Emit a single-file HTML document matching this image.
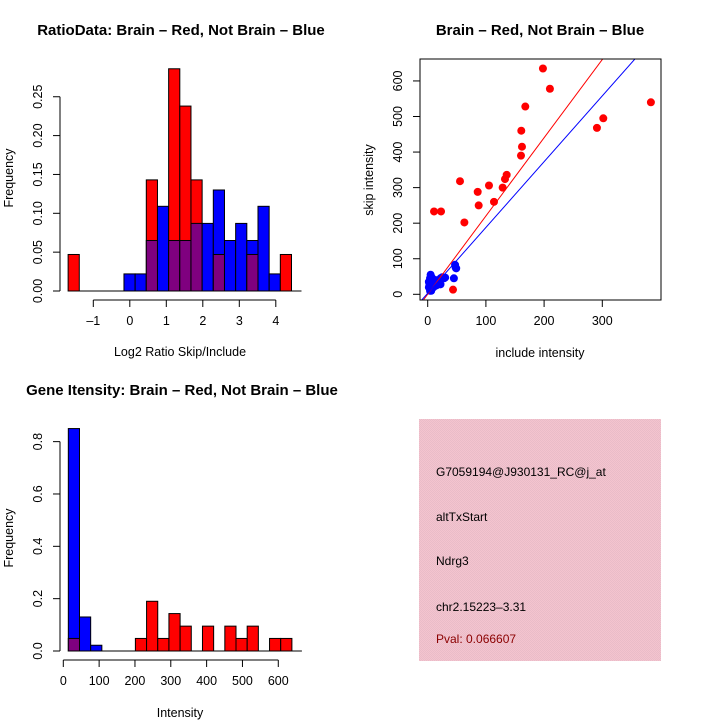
<!DOCTYPE html>
<html><head><meta charset="utf-8"><style>
html,body{margin:0;padding:0;background:#fff;width:720px;height:720px;overflow:hidden}
svg{display:block;font-family:"Liberation Sans",sans-serif}
</style></head><body>
<svg id="s" width="720" height="720" viewBox="0 0 720 720" xmlns="http://www.w3.org/2000/svg">
<defs>
<pattern id="pk" width="2" height="2" patternUnits="userSpaceOnUse">
<rect width="2" height="2" fill="#f4c4cf"/><rect width="1" height="1" fill="#e9bcc8"/><rect x="1" y="1" width="1" height="1" fill="#e9bcc8"/>
</pattern>
</defs>
<text x="181" y="35" font-size="15" font-weight="bold" text-anchor="middle">RatioData: Brain – Red, Not Brain – Blue</text>
<text x="540" y="35" font-size="15" font-weight="bold" text-anchor="middle">Brain – Red, Not Brain – Blue</text>
<text x="182" y="395" font-size="15" font-weight="bold" text-anchor="middle">Gene Itensity: Brain – Red, Not Brain – Blue</text>
<g id="g1"></g>
<g id="g2"></g>
<g id="g3"></g>
<g>
<rect x="419" y="419" width="242" height="242" fill="url(#pk)"/>
<text x="436" y="476" font-size="12">G7059194@J930131_RC@j_at</text>
<text x="436" y="521" font-size="12">altTxStart</text>
<text x="436" y="565" font-size="12">Ndrg3</text>
<text x="436" y="611" font-size="12">chr2.15223–3.31</text>
<text x="436" y="643" font-size="12" fill="#8b0000">Pval: 0.066607</text>
</g>
</svg>
<script>
// ---- Ratio histogram data ----
const ratioBinStart = -1.69;
const ratioBinWidth = 0.306;
const ratioRed  = [0.047,0,0,0,0,0,0,0.143,0,0.286,0.238,0.143,0,0.047,0,0,0.047,0,0,0.047];
const ratioBlue = [0,0,0,0,0,0.022,0.022,0.065,0.109,0.065,0.065,0.087,0.087,0.130,0.065,0.087,0.065,0.109,0.022,0];
const ratioXTicks = [-1,0,1,2,3,4];
const ratioYTicks = ["0.00","0.05","0.10","0.15","0.20","0.25"];
// ---- Scatter data ----
const redInclude = [10.9,22.9,55.5,63,85.9,87.6,105.3,113.9,128.8,132.8,135.7,160.3,160.8,162,167.7,198,210,290.8,301.7,383.5,43.5];
const redSkip    = [233,233,318,202,288,250,306,260,300,324,336,390,460,415,528,635,578,468,495,540,13];
const blueInclude= [2,3,5,6,5,4,7,8,10,12,15,18,20,22,25,30,28,6,4,8,10,14,3,45,47,49,48,18,22,2,6];
const blueSkip   = [20,30,40,50,55,10,15,25,35,30,25,30,35,45,48,47,45,35,45,45,20,40,25,45,83,73,75,28,28,35,10];
const redLine = [0.3,2.2];   // intercept, slope
const blueLine = [3,1.85];
const scatXTicks = [0,100,200,300];
const scatYTicks = [0,100,200,300,400,500,600];
// ---- Intensity histogram data ----
const intBinStart = 14;
const intBinWidth = 31.2;
const intRed  = [0.048,0,0,0,0,0,0.048,0.19,0.048,0.143,0.095,0,0.095,0,0.095,0.048,0.095,0,0.048,0.048];
const intBlue = [0.85,0.13,0.022,0,0,0,0,0,0,0,0,0,0,0,0,0,0,0,0,0];
const intXTicks = [0,100,200,300,400,500,600];
const intYTicks = ["0.0","0.2","0.4","0.6","0.8"];

const NS="http://www.w3.org/2000/svg";
function mk(parent,tag,attrs,txt){const e=document.createElementNS(NS,tag);for(const k in attrs)e.setAttribute(k,attrs[k]);if(txt!==undefined)e.textContent=txt;parent.appendChild(e);return e;}

function hist(g,cfg){
  const {x0,xScale,base,yScale,start,w,red,blue,xt,yt,ytv,xlabel,xAxisY,xAxisLabelY}=cfg;
  const X=v=>x0+(v-cfg.xOrigin)*xScale, Y=v=>base-v*yScale;
  for(let i=0;i<red.length;i++){
    const r=red[i],b=blue[i]; if(r===0&&b===0)continue;
    const xa=X(start+i*w), xb=X(start+(i+1)*w);
    const hi=Math.max(r,b), lo=Math.min(r,b);
    const bar=mk(g,'rect',{x:xa,y:Y(hi),width:xb-xa,height:Y(0)-Y(hi),fill:r>=b?'#ff0000':'#0000ff',stroke:'#000','stroke-width':1});
    
    
    if(lo>0){const p=mk(g,'rect',{x:xa,y:Y(lo),width:xb-xa,height:Y(0)-Y(lo),fill:'#7f007f',stroke:'#000','stroke-width':1});
      
      }
  }
  mk(g,'line',{x1:X(start)-0,x2:X(start+red.length*w)+10,y1:base,y2:base,stroke:'#000'});
  mk(g,'line',{x1:X(xt[0]),x2:X(xt[xt.length-1]),y1:xAxisY,y2:xAxisY,stroke:'#000'});
  xt.forEach(t=>{mk(g,'line',{x1:X(t),x2:X(t),y1:xAxisY,y2:xAxisY+7,stroke:'#000'});
    const tx=mk(g,'text',{x:X(t),y:xAxisY+25,'font-size':12.5,'text-anchor':'middle'},t<0?'–'+(-t):String(t));
    
    });
  mk(g,'line',{x1:60,x2:60,y1:Y(ytv[0]),y2:Y(ytv[ytv.length-1]),stroke:'#000'});
  yt.forEach((t,i)=>{const yy=Y(ytv[i]);mk(g,'line',{x1:53,x2:60,y1:yy,y2:yy,stroke:'#000'});
    const tx=mk(g,'text',{x:0,y:0,'font-size':12.5,'text-anchor':'middle',transform:`translate(42,${yy}) rotate(-90)`},t);
    
    });
  const xl=mk(g,'text',{x:180,y:xAxisLabelY,'font-size':12.5,'text-anchor':'middle'},xlabel);
  
  
  const yl=mk(g,'text',{x:0,y:0,'font-size':12.5,'text-anchor':'middle',transform:`translate(13,${cfg.yLabelY}) rotate(-90)`},'Frequency');
  
  
}

hist(document.getElementById('g1'),{x0:93.3,xOrigin:-1,xScale:36.5,base:291,yScale:777,start:ratioBinStart,w:ratioBinWidth,
  red:ratioRed,blue:ratioBlue,xt:ratioXTicks,yt:ratioYTicks,ytv:ratioYTicks.map(Number),xlabel:'Log2 Ratio Skip/Include',xAxisY:300,xAxisLabelY:356,yLabelY:178});
hist(document.getElementById('g3'),{x0:63.3,xOrigin:0,xScale:0.3583,base:651,yScale:261.7,start:intBinStart,w:intBinWidth,
  red:intRed,blue:intBlue,xt:intXTicks,yt:intYTicks,ytv:intYTicks.map(Number),xlabel:'Intensity',xAxisY:660,xAxisLabelY:717,yLabelY:538});

(function(){
  const g=document.getElementById('g2');
  const X=v=>427.7+v*0.582, Y=v=>294.3-v*0.3556;
  const L=420,R=661,T=59,B=300;
  mk(g,'defs',{}).innerHTML='<clipPath id="cp"><rect x="420" y="59" width="241" height="241"/></clipPath>';
  const pts=mk(g,'g',{'clip-path':'url(#cp)'});
  redInclude.forEach((x,i)=>{const c=mk(pts,'circle',{cx:X(x),cy:Y(redSkip[i]),r:4,fill:'#ff0000'});
    
    });
  blueInclude.forEach((x,i)=>{const c=mk(pts,'circle',{cx:X(x),cy:Y(blueSkip[i]),r:4,fill:'#0000ff'});
    
    });
  [[redLine,'#ff0000','brain-fit-line'],[blueLine,'#0000ff','not-brain-fit-line']].forEach(([ln,col,nm])=>{
    const xa=-20,xb=500;
    const l=mk(pts,'line',{x1:X(xa),y1:Y(ln[0]+ln[1]*xa),x2:X(xb),y2:Y(ln[0]+ln[1]*xb),stroke:col,'stroke-width':1});
    
    });
  mk(g,'rect',{x:L,y:T,width:R-L,height:B-T,fill:'none',stroke:'#000'});
  scatXTicks.forEach(t=>{mk(g,'line',{x1:X(t),x2:X(t),y1:B,y2:B+7,stroke:'#000'});
    const tx=mk(g,'text',{x:X(t),y:B+25,'font-size':12.5,'text-anchor':'middle'},String(t));
    
    });
  scatYTicks.forEach(t=>{const yy=Y(t);mk(g,'line',{x1:L-7,x2:L,y1:yy,y2:yy,stroke:'#000'});
    const tx=mk(g,'text',{x:0,y:0,'font-size':12.5,'text-anchor':'middle',transform:`translate(402,${yy}) rotate(-90)`},String(t));
    
    });
  const xl=mk(g,'text',{x:540,y:357,'font-size':12.5,'text-anchor':'middle'},'include intensity');
  
  
  const yl=mk(g,'text',{x:0,y:0,'font-size':12.5,'text-anchor':'middle',transform:'translate(373,180) rotate(-90)'},'skip intensity');
  
  
})();
</script>
</body></html>
